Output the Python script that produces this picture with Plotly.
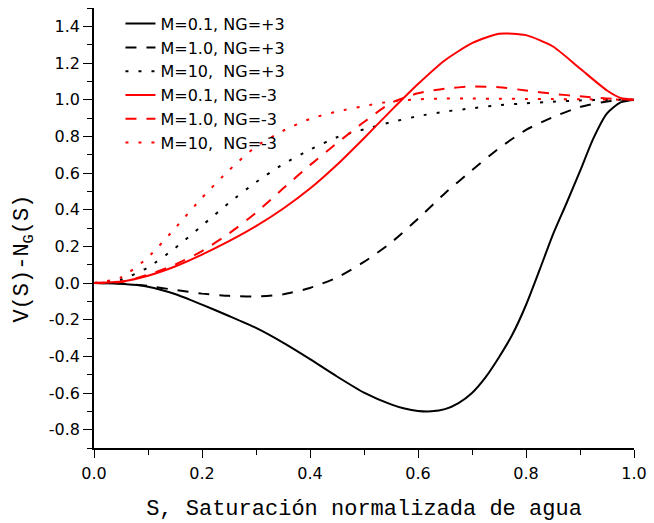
import plotly.graph_objects as go

S = [0.0, 0.05, 0.1, 0.15, 0.2, 0.25, 0.3, 0.35, 0.4, 0.45, 0.5,
     0.55, 0.6, 0.65, 0.7, 0.75, 0.8, 0.85, 0.9, 0.95, 0.975, 1.0]

# M=0.1, NG=+3 read on a finer grid (sharp minimum and steep rise)
S_m01_pos = [0.0, 0.05, 0.1, 0.15, 0.2, 0.25, 0.3, 0.35, 0.4, 0.45, 0.5,
             0.55, 0.575, 0.6, 0.625, 0.65, 0.675, 0.7, 0.725, 0.75, 0.775,
             0.8, 0.825, 0.85, 0.875, 0.9, 0.925, 0.95, 0.975, 1.0]
m01_pos = [0.0, -0.004, -0.02, -0.06, -0.118, -0.18, -0.245, -0.325, -0.415, -0.51, -0.598,
           -0.662, -0.685, -0.698, -0.700, -0.688, -0.655, -0.60, -0.515, -0.405, -0.28,
           -0.12, 0.07, 0.265, 0.435, 0.61, 0.79, 0.925, 0.985, 1.0]
m1_pos = [0.0, -0.003, -0.016, -0.038, -0.058, -0.07, -0.074, -0.062, -0.027, 0.03, 0.115,
          0.22, 0.35, 0.49, 0.615, 0.735, 0.835, 0.905, 0.96, 0.99, 0.997, 1.0]
m10_pos = [0.0, 0.018, 0.085, 0.19, 0.313, 0.437, 0.55, 0.648, 0.727, 0.795, 0.838,
           0.877, 0.91, 0.935, 0.953, 0.97, 0.98, 0.989, 0.996, 0.999, 1.0, 1.0]
m01_neg = [0.0, 0.008, 0.04, 0.09, 0.155, 0.228, 0.31, 0.405, 0.515, 0.645, 0.79,
           0.94, 1.085, 1.215, 1.308, 1.36, 1.352, 1.29, 1.17, 1.05, 1.01, 1.0]
m1_neg = [0.0, 0.006, 0.045, 0.1, 0.174, 0.27, 0.383, 0.515, 0.643, 0.763, 0.878,
          0.982, 1.035, 1.06, 1.072, 1.068, 1.05, 1.032, 1.018, 1.006, 1.002, 1.0]
m10_neg = [0.0, 0.03, 0.14, 0.298, 0.465, 0.615, 0.745, 0.83, 0.895, 0.935, 0.965,
           0.99, 1.002, 1.006, 1.006, 1.005, 1.004, 1.003, 1.002, 1.001, 1.0, 1.0]

names = ["M=0.1, NG=+3", "M=1.0, NG=+3", "M=10,  NG=+3",
         "M=0.1, NG=-3", "M=1.0, NG=-3", "M=10,  NG=-3"]
xs = [S_m01_pos, S, S, S, S, S]
series = [m01_pos, m1_pos, m10_pos, m01_neg, m1_neg, m10_neg]
colors = ["black", "black", "black", "red", "red", "red"]
dashes = ["solid", "11px,10px", "3px,10px", "solid", "11px,10px", "3px,10px"]

x_ticks = [0.0, 0.2, 0.4, 0.6, 0.8, 1.0]
y_ticks = [-0.8, -0.6, -0.4, -0.2, 0.0, 0.2, 0.4, 0.6, 0.8, 1.0, 1.2, 1.4]

fig = go.Figure()
for i, (nm, xv, ys, c, d) in enumerate(zip(names, xs, series, colors, dashes)):
    fig.add_trace(go.Scatter(
        x=xv, y=ys, name=nm, mode="lines",
        line=dict(color=c, width=2, dash=d, shape="spline", smoothing=0.6),
        legendgroup="g%d" % i,
    ))

tickfont = dict(family="DejaVu Sans", size=16, color="black")
monofont = dict(family="Liberation Mono, Courier New, DejaVu Sans Mono, monospace",
                size=22, color="black")

fig.update_layout(
    width=654, height=523,
    margin=dict(l=94, r=15, t=7, b=75),
    plot_bgcolor="white", paper_bgcolor="white",
    showlegend=True,
    legend=dict(
        x=0.049, y=1.003, xanchor="left", yanchor="top",
        font=dict(family="DejaVu Sans", size=16, color="black"),
        bgcolor="rgba(0,0,0,0)", borderwidth=0,
        tracegroupgap=0, itemwidth=30,
    ),
    xaxis=dict(
        range=[0, 1], tickvals=x_ticks, ticktext=["%.1f" % v for v in x_ticks],
        ticks="outside", ticklen=8, tickwidth=1.3, tickcolor="black",
        minor=dict(dtick=0.1, tick0=0, ticks="outside", ticklen=5, tickwidth=1.3, tickcolor="black"),
        showline=True, linecolor="black", linewidth=1.5,
        showgrid=False, zeroline=False, tickfont=tickfont, ticklabelstandoff=2,
        title=dict(text="S, Saturación normalizada de agua", font=monofont, standoff=18),
    ),
    xaxis2=dict(
        range=[0, 1], overlaying="x", side="top", anchor="y",
        dtick=0.1, tick0=0, ticks="inside", ticklen=8, tickwidth=1.3, tickcolor="black",
        showticklabels=False, showline=True, linecolor="black", linewidth=1.5,
        showgrid=False, zeroline=False,
    ),
    yaxis=dict(
        range=[-0.9, 1.5], tickvals=y_ticks, ticktext=["%.1f" % v for v in y_ticks],
        ticks="outside", ticklen=9, tickwidth=1.3, tickcolor="black",
        minor=dict(dtick=0.1, tick0=0, ticks="outside", ticklen=5, tickwidth=1.3, tickcolor="black"),
        showline=True, linecolor="black", linewidth=1.5,
        showgrid=False, zeroline=False, tickfont=tickfont,
    ),
    yaxis2=dict(
        range=[-0.9, 1.5], overlaying="y", side="right", anchor="x",
        dtick=0.1, tick0=0, ticks="inside", ticklen=8, tickwidth=1.3, tickcolor="black",
        showticklabels=False, showline=True, linecolor="black", linewidth=1.5,
        showgrid=False, zeroline=False,
    ),
    annotations=[dict(
        text="V(S)-N<sub>G</sub>(S)", textangle=-90,
        xref="paper", yref="paper", x=-0.13, y=0.43,
        xanchor="center", yanchor="middle", showarrow=False, font=monofont,
    )],
)

fig.write_html("out.html", config={"displayModeBar": False},
               post_script="document.body.style.margin='0';")
